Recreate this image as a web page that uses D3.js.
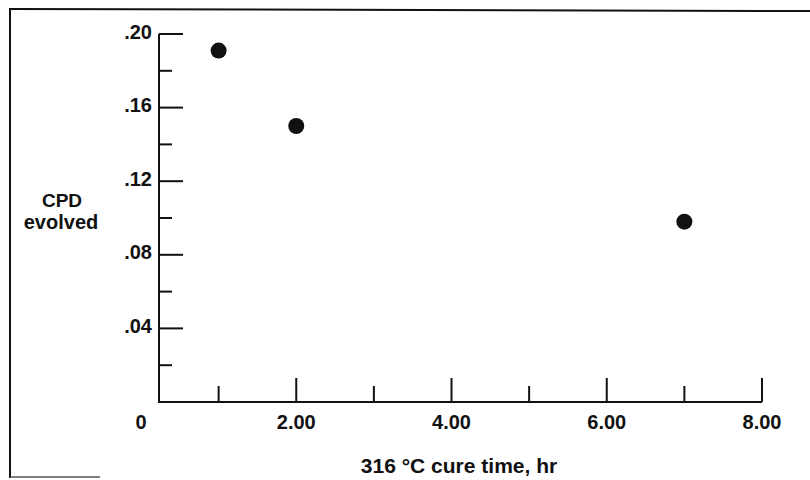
<!DOCTYPE html>
<html>
<head>
<meta charset="utf-8">
<script src="https://cdn.jsdelivr.net/npm/d3@7"></script>
<style>
  html, body { margin: 0; padding: 0; background: #fff; }
  text { font-family: "Liberation Sans", Arial, sans-serif; font-weight: bold; fill: #111; }
</style>
</head>
<body>
<svg width="810" height="480"></svg>
<script>
// data
const cureTime = [1, 2, 7];
const cpdEvolved = [0.191, 0.150, 0.098];

const xMajor = [2, 4, 6, 8];
const xMinor = [1, 3, 5, 7];
const xLabelValues = [0, 2, 4, 6, 8];
const xLabels = ["0", "2.00", "4.00", "6.00", "8.00"];

const yMajor = [0.04, 0.08, 0.12, 0.16, 0.20];
const yMinor = [0.02, 0.06, 0.10, 0.14, 0.18];
const yLabels = [".04", ".08", ".12", ".16", ".20"];

var svg = d3.select("svg");

var x = d3.scaleLinear().domain([0, 8]).range([141, 762]);
var y = d3.scaleLinear().domain([0, 0.20]).range([402, 34]);

var axisX = x(0) + 18; // y axis sits a bit right of x=0
var ink = "#111";

// frame (scanned page border)
svg.append("line").attr("x1", 10).attr("y1", 9).attr("x2", 810).attr("y2", 11)
    .attr("stroke", ink).attr("stroke-width", 2);
svg.append("line").attr("x1", 10).attr("y1", 8).attr("x2", 10).attr("y2", 478)
    .attr("stroke", ink).attr("stroke-width", 2);
svg.append("line").attr("x1", 10).attr("y1", 477).attr("x2", 100).attr("y2", 477)
    .attr("stroke", "#555").attr("stroke-width", 1.5);

// y axis
svg.append("line")
    .attr("x1", axisX).attr("x2", axisX)
    .attr("y1", y(0)).attr("y2", y(0.20))
    .attr("stroke", ink).attr("stroke-width", 2);

svg.selectAll(".ymajor").data(yMajor).enter().append("line")
    .attr("class", "ymajor")
    .attr("x1", axisX).attr("x2", axisX + 24)
    .attr("y1", d => y(d)).attr("y2", d => y(d))
    .attr("stroke", ink).attr("stroke-width", 2);

svg.selectAll(".yminor").data(yMinor).enter().append("line")
    .attr("class", "yminor")
    .attr("x1", axisX).attr("x2", axisX + 13)
    .attr("y1", d => y(d)).attr("y2", d => y(d))
    .attr("stroke", ink).attr("stroke-width", 2);

svg.selectAll(".ylabel").data(yMajor).enter().append("text")
    .attr("class", "ylabel")
    .attr("x", axisX - 7)
    .attr("y", d => y(d))
    .attr("dy", 4.5)
    .attr("text-anchor", "end")
    .style("font-size", "20px")
    .text((d, i) => yLabels[i]);

// x axis
svg.append("line")
    .attr("x1", axisX - 1).attr("x2", x(8))
    .attr("y1", y(0)).attr("y2", y(0))
    .attr("stroke", ink).attr("stroke-width", 2);

svg.selectAll(".xmajor").data(xMajor).enter().append("line")
    .attr("class", "xmajor")
    .attr("x1", d => x(d)).attr("x2", d => x(d))
    .attr("y1", y(0)).attr("y2", y(0) - 24)
    .attr("stroke", ink).attr("stroke-width", 2);

svg.selectAll(".xminor").data(xMinor).enter().append("line")
    .attr("class", "xminor")
    .attr("x1", d => x(d)).attr("x2", d => x(d))
    .attr("y1", y(0)).attr("y2", y(0) - 16)
    .attr("stroke", ink).attr("stroke-width", 2);

svg.selectAll(".xlabel").data(xLabelValues).enter().append("text")
    .attr("class", "xlabel")
    .attr("x", d => x(d))
    .attr("y", y(0) + 27)
    .attr("text-anchor", "middle")
    .style("font-size", "20px")
    .text((d, i) => xLabels[i]);

// axis titles
svg.append("text")
    .attr("x", 459).attr("y", 473)
    .attr("text-anchor", "middle")
    .style("font-size", "21px")
    .text("316 \u00B0C cure time, hr");

svg.append("text")
    .attr("x", 62).attr("y", 207)
    .attr("text-anchor", "middle")
    .style("font-size", "19px")
    .text("CPD");
svg.append("text")
    .attr("x", 61).attr("y", 229)
    .attr("text-anchor", "middle")
    .style("font-size", "20px")
    .text("evolved");

// points
svg.selectAll(".dot").data(cureTime).enter().append("circle")
    .attr("class", "dot")
    .attr("cx", d => x(d))
    .attr("cy", (d, i) => y(cpdEvolved[i]))
    .attr("r", 8)
    .attr("fill", ink);
</script>
</body>
</html>
